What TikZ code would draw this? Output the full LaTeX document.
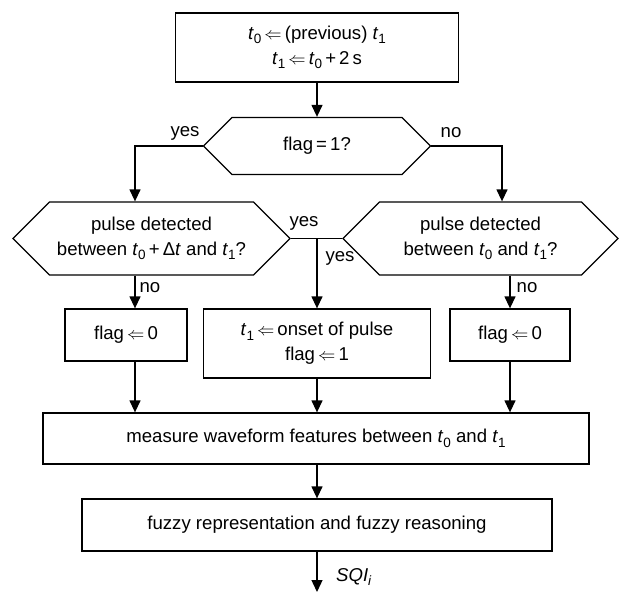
\documentclass[tikz,border=0pt]{standalone}
\usepackage{fontspec}
\setmainfont{Liberation Sans}
\usetikzlibrary{arrows.meta,shapes.symbols}

\newcommand{\lowidx}[1]{\raisebox{-0.45ex}{\fontsize{13.5}{13.5}\selectfont #1}}
\newcommand{\tv}[1]{\textit{t}\lowidx{#1}}
\newcommand{\lar}{\,$\Leftarrow$\,}

\tikzset{
  box/.style={draw, line width=1.3pt, inner sep=0pt, align=center},
  hexa/.style={draw, line width=1.3pt, inner sep=0pt, align=center, shape=signal,
    signal to=west and east, signal pointer angle=90},
  arr/.style={-{Triangle[length=12pt,width=11pt]}, line width=1.3pt},
  lne/.style={line width=1.3pt},
  lbl/.style={inner sep=0pt}
}

\begin{document}
\begin{tikzpicture}[x=1pt,y=-1pt,font=\fontsize{18.6}{25}\selectfont]
  \useasboundingbox (0,0) rectangle (619,592);
  %--------------- columns ---------------
  \coordinate (colL) at (135,0);
  \coordinate (colLR) at (502,0);
  \coordinate (colM) at (317,0);
  \coordinate (colR) at (510,0);
  %--------------- top box ---------------
  \node[box, minimum width=283, minimum height=69] (init) at (317,47.5)
    {\tv{0}\lar(previous) \tv{1}\\ \tv{1}\lar\tv{0}\,+\,2\,s};
  %--------------- flag test ---------------
  \node[hexa, minimum width=227, minimum height=57] (flag) at (317,146) {flag\,=\,1?};
  \node[lbl] (yes1) at (185,133) {yes};
  \node[lbl] (no1) at (451,133) {no};
  %--------------- pulse tests ---------------
  \node[hexa, minimum width=277, minimum height=73] (lhex) at (151.5,238.5)
    {pulse detected\\ between \tv{0}\,+\,Δ\textit{t} and \tv{1}?};
  \node[hexa, minimum width=275, minimum height=73] (rhex) at (480.5,238.5)
    {pulse detected\\ between \tv{0} and \tv{1}?};
  \node[lbl] (yes2) at (304,223) {yes};
  \node[lbl] (yes3) at (340,258) {yes};
  \node[lbl] (no2) at (150,288) {no};
  \node[lbl] (no3) at (527,288) {no};
  %--------------- assignments ---------------
  \node[box, minimum width=122, minimum height=52] (lflag) at (126,335) {flag\lar 0};
  \node[box, minimum width=227, minimum height=69] (onset) at (317,343.5)
    {\tv{1}\lar onset of pulse\\ flag\lar 1};
  \node[box, minimum width=120, minimum height=52] (rflag) at (510,335) {flag\lar 0};
  %--------------- measure and fuzzy ---------------
  \node[box, minimum width=546, minimum height=51] (meas) at (316,438.5)
    {measure waveform features between \tv{0} and \tv{1}};
  \node[box, minimum width=470, minimum height=52] (fuzzy) at (317,525)
    {fuzzy representation and fuzzy reasoning};
  \coordinate (out) at (317,592);
  \node[lbl, anchor=west] (sqi) at (336,577) {\textit{SQI}\lowidx{\textit{i}}};
  %--------------- arrows ---------------
  \draw[arr] (init.south -| colM) -- (flag.north -| colM);
  \draw[arr] (flag.west) -| (lhex.north -| colL);
  \draw[arr] (flag.east) -| (rhex.north -| colLR);
  \draw[lne] (lhex.east) -- (rhex.west);
  \draw[arr] (lhex.east -| colM) -- (onset.north -| colM);
  \draw[arr] (lhex.south -| colL) -- (lflag.north -| colL);
  \draw[arr] (rhex.south -| colR) -- (rflag.north -| colR);
  \draw[arr] (lflag.south -| colL) -- (meas.north -| colL);
  \draw[arr] (onset.south -| colM) -- (meas.north -| colM);
  \draw[arr] (rflag.south -| colR) -- (meas.north -| colR);
  \draw[arr] (meas.south -| colM) -- (fuzzy.north -| colM);
  \draw[arr] (fuzzy.south -| colM) -- (out);
\end{tikzpicture}
\end{document}
